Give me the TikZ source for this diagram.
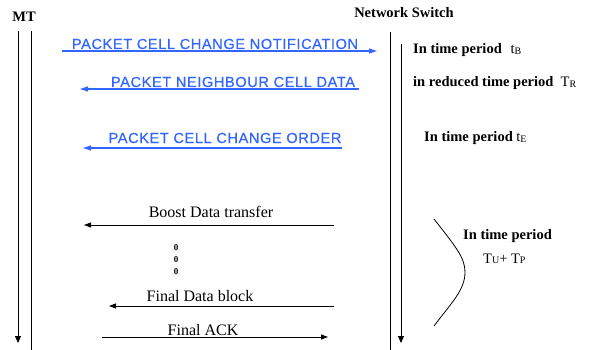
\documentclass[tikz,border=0pt]{standalone}
\usepackage{fontspec}
\setmainfont{Liberation Serif}
\newfontfamily\msgfont[LetterSpace=4, FakeBold=0.6]{Liberation Sans}
\usetikzlibrary{positioning,arrows.meta,calc}
\definecolor{cMsg}{HTML}{3366FF}
\newcommand{\tsubper}[2]{{\mdseries #1}\raisebox{-0.5pt}{\mdseries\fontsize{10}{10}\selectfont #2}}

\begin{document}
\begin{tikzpicture}[
    x=1pt, y=-1pt,
    lbl/.style={font=\fontsize{14.5}{16}\selectfont\bfseries, inner sep=0pt, anchor=base west},
    head/.style={font=\fontsize{14.5}{16}\selectfont\bfseries, inner sep=0pt, anchor=base},
    msg/.style={font=\msgfont\fontsize{14.6}{16}\selectfont, text=cMsg, inner sep=0pt, anchor=base},
    dat/.style={font=\fontsize{16}{18}\selectfont, inner sep=0pt, anchor=base},
    life/.style={line width=0.9pt, black},
    larr/.style={life, -{Triangle[length=7pt, width=6pt]}},
    marr/.style={line width=1.2pt, cMsg, -{Triangle[length=8pt, width=5pt]}},
    darr/.style={line width=0.9pt, black, -{Triangle[length=7pt, width=5pt]}}
]
\useasboundingbox (0,0) rectangle (597,350);

% lifelines
\node[head] (mt) at (24,22) {MT};
\node[head] (sw) at (404,18) {Network Switch};
\coordinate (mtA) at (18,31);   \coordinate (mtAend) at (18,343);
\coordinate (mtB) at (31,31);   \coordinate (mtBend) at (31,350);
\coordinate (swA) at (390,32);  \coordinate (swAend) at (390,350);
\coordinate (swB) at (401,44);  \coordinate (swBend) at (401,343);
\draw[larr] (mtA) -- (mtAend);
\draw[life] (mtB) -- (mtBend);
\draw[life] (swA) -- (swAend);
\draw[larr] (swB) -- (swBend);

% signalling messages
\node[msg] (notif) at (215,49) {PACKET CELL CHANGE NOTIFICATION};
\node[msg] (neigh) at (233,87) {PACKET NEIGHBOUR CELL DATA};
\node[msg] (order) at (225,143) {PACKET CELL CHANGE ORDER};
\coordinate (notifL) at (62,51);   \coordinate (notifR) at (377,51);
\coordinate (neighR) at (359,89);  \coordinate (neighL) at (80,89);
\coordinate (orderR) at (342,148); \coordinate (orderL) at (83,148);
\draw[marr] (notifL) -- (notifR);
\draw[marr] (neighR) -- (neighL);
\draw[marr] (orderR) -- (orderL);

% data transfer
\node[dat] (boost) at (211,217) {Boost Data transfer};
\node[dat] (final) at (200,301) {Final Data block};
\node[dat] (ack) at (203,335) {Final ACK};
\coordinate (boostR) at (334,225); \coordinate (boostL) at (84,225);
\coordinate (finalR) at (334,306); \coordinate (finalL) at (109,306);
\coordinate (ackL) at (102,337);   \coordinate (ackR) at (328,337);
\draw[darr] (boostR) -- (boostL);
\draw[darr] (finalR) -- (finalL);
\draw[darr] (ackL) -- (ackR);
\foreach \y [count=\i] in {248,259.5,272}
  \node[font=\fontsize{9}{10}\selectfont\bfseries, inner sep=0pt] (dot\i) at (176,\y) {0};

% timing notes
\node[lbl] (tB) at (413,54) {In time period\hspace{0.6em}\tsubper{t}{B}};
\node[lbl] (tR) at (413,87) {in reduced time period\hspace{0.5em}\tsubper{T}{R}};
\node[lbl] (tE) at (424,142) {In time period \tsubper{t}{E}};
\node[lbl] (tUP) at (463,239) {In time period};
\node[lbl, font=\fontsize{14.5}{16}\selectfont] (tUPv) at (483,263) {\tsubper{T}{U}+ \tsubper{T}{P}};
\coordinate (brTop) at (434,219);
\coordinate (brMid) at (465,272);
\coordinate (brBot) at (434,326);
\draw[line width=0.8pt] (brTop) .. controls (456,247) and (465,258) .. (brMid)
  .. controls (465,290) and (452,302) .. (brBot);
\end{tikzpicture}
\end{document}
